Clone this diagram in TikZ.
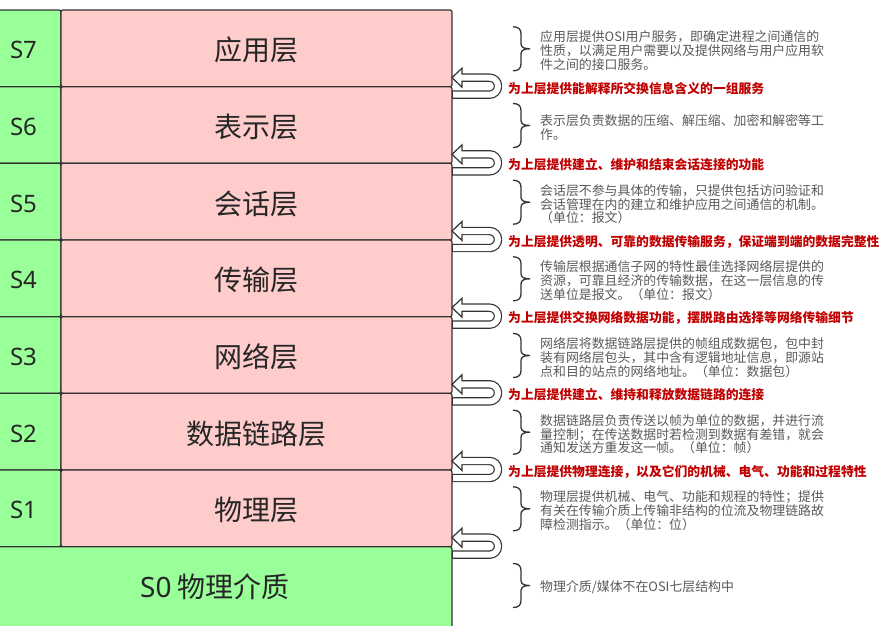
\documentclass[tikz,border=0pt]{standalone}
\usepackage{fontspec}
\setmainfont{Noto Sans CJK SC}
\newfontfamily\latinsans{Noto Sans}
\usetikzlibrary{calc}
\definecolor{edge}{HTML}{333333}
\definecolor{gfill}{HTML}{99FF99}
\definecolor{rfill}{HTML}{FFCCCC}
\definecolor{redtxt}{HTML}{C00000}
\definecolor{graytxt}{HTML}{595959}
\definecolor{darktxt}{HTML}{262626}
\newcommand\lowered[1]{\raisebox{-2pt}[\height][\depth]{#1}}
\newcommand\osibrace[1]{%
  \draw[brc] (513,#1-22) .. controls (518,#1-22) and (521,#1-20) .. (521,#1-15)
    -- (521,#1-5) .. controls (521,#1-1.5) and (524,#1) .. (530,#1)
    .. controls (524,#1) and (521,#1+1.5) .. (521,#1+5)
    -- (521,#1+15) .. controls (521,#1+20) and (518,#1+22) .. (513,#1+22);}
\newcommand\osiarrow[1]{%
  \draw[uband] ($(#1.south east)+(0,8)$) -- ++(46,0) -- ++(0,-17) -- ++(-36,0);
  \filldraw[uhead] ($(#1.south east)+(0,-9)$) -- ++(10,-9.5) -- ++(0,19) -- cycle;
  \draw[uinner] ($(#1.south east)+(1,8)$) -- ++(45,0) -- ++(0,-17) -- ++(-41,0);}
\begin{document}
\begin{tikzpicture}[x=1pt,y=-1pt,
  box/.style={draw=edge, line width=1.2pt, rounded corners=2pt, inner sep=0pt,
    outer sep=0pt, anchor=north west, minimum height=76.67pt},
  gbox/.style={box, fill=gfill, minimum width=75pt,
    font=\latinsans\fontsize{24}{28}\selectfont, text=darktxt},
  rbox/.style={box, fill=rfill, minimum width=391pt,
    font=\fontsize{28}{32}\selectfont, text=darktxt},
  svc/.style={anchor=west, inner sep=0pt, font=\bfseries\fontsize{12.8}{14}\selectfont, text=redtxt},
  desc/.style={anchor=west, inner sep=0pt, align=left,
    font=\fontsize{12.9}{13.8}\selectfont, text=graytxt},
  brc/.style={draw=edge, line width=1.3pt},
  uband/.style={draw=edge, line width=8.4pt, rounded corners=8.4pt},
  uinner/.style={draw=white, line width=6pt, rounded corners=8.4pt},
  uhead/.style={fill=white, draw=edge, line width=1.2pt, line join=miter}]
\useasboundingbox (0,0) rectangle (883,625);
% layers
\node[gbox] (g7) at (-14,10) {\lowered{S7}};
\node[gbox] (g6) at (-14,86.67) {\lowered{S6}};
\node[gbox] (g5) at (-14,163.33) {\lowered{S5}};
\node[gbox] (g4) at (-14,240) {\lowered{S4}};
\node[gbox] (g3) at (-14,316.67) {\lowered{S3}};
\node[gbox] (g2) at (-14,393.33) {\lowered{S2}};
\node[gbox] (g1) at (-14,470) {\lowered{S1}};
\node[rbox] (r7) at (61,10) {\lowered{应用层}};
\node[rbox] (r6) at (61,86.67) {\lowered{表示层}};
\node[rbox] (r5) at (61,163.33) {\lowered{会话层}};
\node[rbox] (r4) at (61,240) {\lowered{传输层}};
\node[rbox] (r3) at (61,316.67) {\lowered{网络层}};
\node[rbox] (r2) at (61,393.33) {\lowered{数据链路层}};
\node[rbox] (r1) at (61,470) {\lowered{物理层}};
\node[box, fill=gfill, minimum width=474pt, minimum height=81pt,
  font=\fontsize{28}{32}\selectfont, text=darktxt] (s0) at (-22,546.67)
  {{\latinsans S0} 物理介质};
% service arrows
\osiarrow{r7}
\osiarrow{r6}
\osiarrow{r5}
\osiarrow{r4}
\osiarrow{r3}
\osiarrow{r2}
\osiarrow{r1}
% service labels
\node[svc] (v7) at (508,88.17) {为上层提供能解释所交换信息含义的一组服务};
\node[svc] (v6) at (508,164.83) {为上层提供建立、维护和结束会话连接的功能};
\node[svc] (v5) at (508,241.5) {为上层提供透明、可靠的数据传输服务，保证端到端的数据完整性};
\node[svc] (v4) at (508,318.17) {为上层提供交换网络数据功能，摆脱路由选择等网络传输细节};
\node[svc] (v3) at (508,394.83) {为上层提供建立、维持和释放数据链路的连接};
\node[svc] (v2) at (508,471.5) {为上层提供物理连接，以及它们的机械、电气、功能和过程特性};
% braces
\osibrace{48.8}
\osibrace{125.5}
\osibrace{202.2}
\osibrace{278.8}
\osibrace{355.5}
\osibrace{432.2}
\osibrace{508.8}
\osibrace{585.5}
% descriptions
\node[desc] (d7) at (540,50.8) {应用层提供OSI用户服务，即确定进程之间通信的\\性质，以满足用户需要以及提供网络与用户应用软\\件之间的接口服务。};
\node[desc] (d6) at (540,127.5) {表示层负责数据的压缩、解压缩、加密和解密等工\\作。};
\node[desc] (d5) at (540,204.2) {会话层不参与具体的传输，只提供包括访问验证和\\会话管理在内的建立和维护应用之间通信的机制。\\（单位：报文）};
\node[desc] (d4) at (540,280.8) {传输层根据通信子网的特性最佳选择网络层提供的\\资源，可靠且经济的传输数据，在这一层信息的传\\送单位是报文。（单位：报文）};
\node[desc] (d3) at (540,357.5) {网络层将数据链路层提供的帧组成数据包，包中封\\装有网络层包头，其中含有逻辑地址信息，即源站\\点和目的站点的网络地址。（单位：数据包）};
\node[desc] (d2) at (540,434.2) {数据链路层负责传送以帧为单位的数据，并进行流\\量控制；在传送数据时若检测到数据有差错，就会\\通知发送方重发这一帧。（单位：帧）};
\node[desc] (d1) at (540,510.8) {物理层提供机械、电气、功能和规程的特性；提供\\有关在传输介质上传输非结构的位流及物理链路故\\障检测指示。（单位：位）};
\node[desc] (d0) at (540,587.5) {物理介质/媒体不在OSI七层结构中};
\end{tikzpicture}
\end{document}
